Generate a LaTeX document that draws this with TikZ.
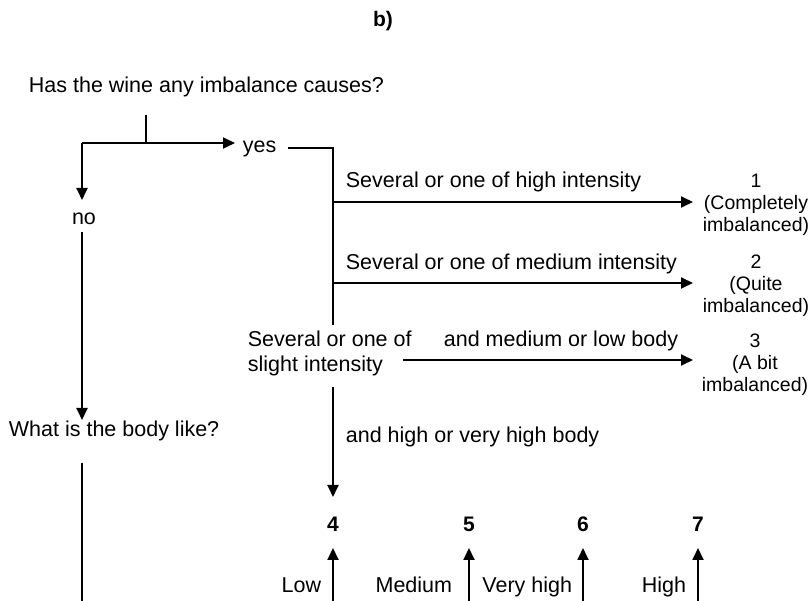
\documentclass[tikz,border=0pt]{standalone}
\usepackage{fontspec}
\setmainfont{Liberation Sans}
\usetikzlibrary{arrows.meta}
\begin{document}
\begin{tikzpicture}[x=1pt,y=-1pt,
  line width=1.8pt,
  txt/.style={inner sep=0pt, font=\fontsize{21.5}{25}\selectfont},
  res/.style={inner sep=0pt, align=center, font=\fontsize{19.5}{22}\selectfont},
  num/.style={inner sep=0pt, font=\fontsize{21}{24}\selectfont\bfseries},
  arr/.style={-{Triangle[length=12pt,width=11pt]}},
]
\useasboundingbox (0,0) rectangle (812,601);

% heading and first question
\node[num, anchor=base] (title) at (383,27) {b)};
\node[txt, anchor=base west] (q1) at (28,93) {Has the wine any imbalance causes?};

% yes / no split
\coordinate (stem) at (146,115);
\coordinate (fork) at (146,143);
\coordinate (forkl) at (82,143);
\node[txt, anchor=base west] (yes) at (242,153) {yes};
\node[txt, anchor=base] (no) at (84,225) {no};
\draw (stem) -- (fork);
\draw[arr] (forkl) -- (235,143) coordinate (yestip);
\draw[arr] (forkl) -- (82,200) coordinate (notip);

% yes branch
\coordinate (yesr) at (288,148);
\coordinate (ycorner) at (333,148);
\coordinate (yend) at (333,325);
\draw (yesr) -- (ycorner) -- (yend);

\node[txt, anchor=base west] (l1) at (345,188) {Several or one of high intensity};
\node[txt, anchor=base west] (l2) at (345,270) {Several or one of medium intensity};
\coordinate (b1) at (333,202);
\coordinate (b2) at (333,283);
\node[res, anchor=base] (r1) at (756,232) {1\\(Completely\\imbalanced)};
\node[res, anchor=base] (r2) at (756,313) {2\\(Quite\\imbalanced)};
\node[res, anchor=base] (r3) at (755,392) {3\\(A bit\\imbalanced)};
\draw[arr] (b1) -- (693,202);
\draw[arr] (b2) -- (693,283);

\node[txt, anchor=base west, align=left] (slight) at (247,372) {Several or one of\\slight intensity};
\node[txt, anchor=base west] (l3) at (443,347) {and medium or low body};
\draw[arr] (403,360) coordinate (b3) -- (693,360);

\coordinate (ylow) at (333,387);
\node[txt, anchor=base west] (l4) at (345,443) {and high or very high body};
\node[num, anchor=base] (n4) at (333,532) {4};
\draw[arr] (ylow) -- (333,497);

% no branch
\node[txt, anchor=base west] (q2) at (8,437) {What is the body like?};
\draw[arr] (82,232) coordinate (nolow) -- (82,420);
\draw (82,463) coordinate (q2low) -- (82,601);

% body levels
\node[num, anchor=base] (n5) at (469,532) {5};
\node[num, anchor=base] (n6) at (583,532) {6};
\node[num, anchor=base] (n7) at (698,532) {7};
\foreach \xx in {333,469,583,698}
  \draw[arr] (\xx,601) -- (\xx,548);
\node[txt, anchor=base east] (low) at (322,592) {Low};
\node[txt, anchor=base east] (med) at (453,592) {Medium};
\node[txt, anchor=base east] (vhigh) at (573,592) {Very high};
\node[txt, anchor=base east] (high) at (687,592) {High};
\end{tikzpicture}
\end{document}
